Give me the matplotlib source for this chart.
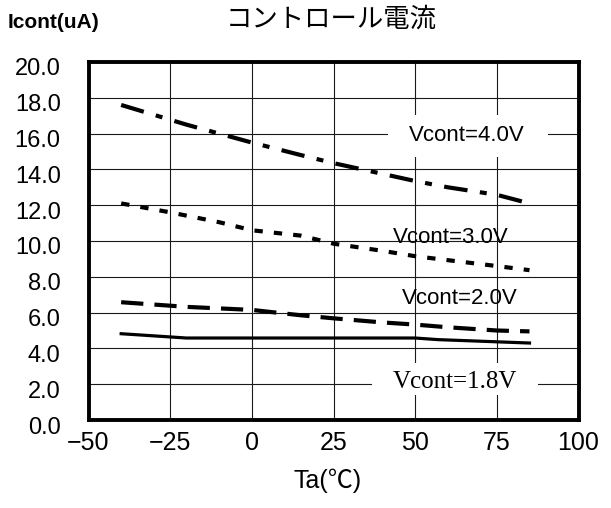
import matplotlib
matplotlib.use("Agg")
import matplotlib.pyplot as plt
from matplotlib.patches import Rectangle
from matplotlib.transforms import ScaledTranslation
from matplotlib import font_manager

plt.rcParams['lines.scale_dashes'] = False

# ---- data ----
t_40 = [-40, -20, 0, 15, 25, 50, 60, 75, 85]
i_40 = [17.6, 16.5, 15.5, 14.8, 14.35, 13.35, 13.0, 12.58, 12.1]

t_30 = [-40, -25, -10, 0, 15, 25, 40, 50, 60, 75, 85]
i_30 = [12.1, 11.6, 11.05, 10.6, 10.3, 9.85, 9.45, 9.15, 8.93, 8.6, 8.37]

t_20 = [-40, -20, 0, 15, 25, 40, 50, 60, 75, 85]
i_20 = [6.58, 6.32, 6.15, 5.85, 5.68, 5.45, 5.33, 5.18, 5.0, 4.95]

t_18 = [-40, -20, 0, 25, 50, 57, 85]
i_18 = [4.82, 4.58, 4.58, 4.58, 4.58, 4.49, 4.3]

x_ticks = [-50, -25, 0, 25, 50, 75, 100]
y_ticks = [0, 2, 4, 6, 8, 10, 12, 14, 16, 18, 20]
y_labels = [f"{v:.1f}" for v in y_ticks]
title = "コントロール電流"
y_title = "Icont(uA)"
x_title = "Ta(℃)"
labels = ["Vcont=4.0V", "Vcont=3.0V", "Vcont=2.0V", "Vcont=1.8V"]

names = {f.name for f in font_manager.fontManager.ttflist}
narrow = 'Liberation Sans Narrow' if 'Liberation Sans Narrow' in names else 'Liberation Sans'

W, H = 611, 508
fig = plt.figure(figsize=(W / 100, H / 100), dpi=100)
ax = fig.add_axes([88.5 / W, 1 - 420 / H, 490 / W, 358 / H])
ax.set_xlim(-50, 100)
ax.set_ylim(0, 20)
ax.set_xticks(x_ticks)
ax.set_yticks(y_ticks)
ax.set_yticklabels(y_labels, fontsize=17, family='Liberation Sans')
ax.set_xticklabels([str(v).replace('-', '\u2212') for v in x_ticks],
                   fontsize=18, family=[narrow, 'DejaVu Sans'])
ax.tick_params(axis='both', length=0)
ax.tick_params(axis='y', pad=20)
ax.tick_params(axis='x', pad=8)
for lab in ax.get_yticklabels():
    lab.set_transform(lab.get_transform() + ScaledTranslation(0, -5 / 100, fig.dpi_scale_trans))

ax.grid(True, color='#1a1a1a', lw=0.8)
ax.set_axisbelow(True)
for s in ax.spines.values():
    s.set_linewidth(2.8)
    s.set_color('black')

ax.plot(t_40, i_40, color='black', lw=3.0, dashes=(17, 9, 5, 9), dash_capstyle='butt', zorder=3)
ax.plot(t_30, i_30, color='black', lw=3.0, dashes=(6, 8), dash_capstyle='butt', zorder=3)
ax.plot(t_20, i_20, color='black', lw=3.0, dashes=(16, 8), dash_capstyle='butt', zorder=3)
ax.plot(t_18, i_18, color='black', lw=2.3, zorder=3)

# white boxes behind two labels
ax.add_patch(Rectangle((41.7, 14.69), 48.9, 2.35, facecolor='white', edgecolor='none', zorder=1.5))
ax.add_patch(Rectangle((36.8, 1.40), 50.8, 1.78, facecolor='white', edgecolor='none', zorder=1.5))

ax.text(65.9, 15.92, labels[0], fontsize=16, family='Liberation Sans', ha='center', va='center', zorder=4)
ax.text(61.0, 10.17, labels[1], fontsize=16, family='Liberation Sans', ha='center', va='center', zorder=4)
ax.text(63.7, 6.8, labels[2], fontsize=16, family='Liberation Sans', ha='center', va='center', zorder=4)
ax.text(62.2, 2.1, labels[3], fontsize=18, family='Liberation Serif', ha='center', va='center', zorder=4)

fig.text(331 / W, 1 - 19 / H, title, fontsize=19, family=['Noto Sans CJK JP', 'DejaVu Sans'],
         ha='center', va='center')
fig.text(8 / W, 1 - 22 / H, y_title, fontsize=15, family='Liberation Sans', weight='bold',
         ha='left', va='center')
fig.text(328 / W, 1 - 481 / H, x_title, fontsize=18, family=[narrow, 'Noto Sans CJK JP', 'DejaVu Sans'],
         ha='center', va='center')

fig.savefig('out.png', dpi=100)
